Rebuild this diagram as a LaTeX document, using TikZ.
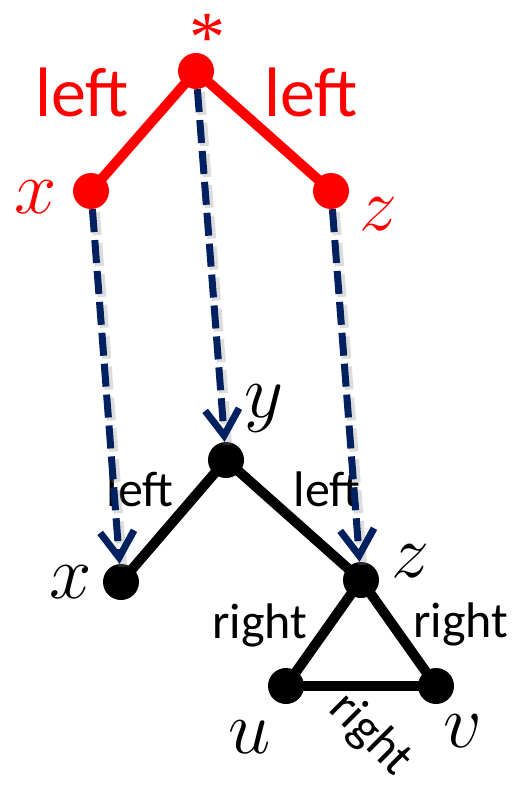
\documentclass[tikz,border=0pt]{standalone}
\usepackage{fontspec}
\setmainfont{Liberation Serif}
\newfontfamily\calibfont{Carlito}
\DeclareFontFamily{OML}{bigcmm}{\skewchar\font127 }
\DeclareFontShape{OML}{bigcmm}{m}{it}{<->cmmi12}{}
\newcommand{\mvar}[1]{{\usefont{OML}{bigcmm}{m}{it}#1}}
\usetikzlibrary{arrows.meta}
\definecolor{navy}{HTML}{002060}
\begin{document}
\begin{tikzpicture}[x=1pt,y=-1pt,
  rdot/.style={circle,fill=red,minimum size=36pt,inner sep=0pt},
  bdot/.style={circle,fill=black,minimum size=36pt,inner sep=0pt},
  redge/.style={draw=red,line width=10pt},
  bedge/.style={draw=black,line width=10pt},
  maparrow/.style={draw=navy,line width=7pt,dash pattern=on 23pt off 8pt,
    -{Straight Barb[length=26pt,width=34pt,line width=7pt]}},
  mapshadow/.style={draw=black!45,opacity=0.3,line width=9pt,dash pattern=on 23pt off 8pt,
    transform canvas={xshift=3pt,yshift=-3pt}},
  bigword/.style={inner sep=0pt,anchor=base,font=\calibfont\fontsize{70}{84}\selectfont},
  word/.style={inner sep=0pt,anchor=base,font=\calibfont\fontsize{50}{60}\selectfont},
  var/.style={inner sep=0pt,font=\fontsize{76}{90}\selectfont}]
\useasboundingbox (0,0) rectangle (516,786);
% red pattern
\coordinate (rs) at (196,71);
\coordinate (rx) at (91,191);
\coordinate (rz) at (331,191);
\draw[redge] (rs) -- (rx);
\draw[redge] (rs) -- (rz);
\node[rdot] (nrs) at (rs) {};
\node[rdot] (nrx) at (rx) {};
\node[rdot] (nrz) at (rz) {};
\node[inner sep=0pt,text=red,anchor=north,font=\rmfamily\fontsize{72}{84}\selectfont] (lstar) at (207,14) {*};
\node[var,text=red] (lrx) at (36,197) {\mvar{x}};
\node[var,text=red] (lrz) at (377,214) {\mvar{z}};
\node[bigword,text=red] (lr1) at (82,117) {left};
\node[bigword,text=red] (lr2) at (311,117) {left};
% black graph
\coordinate (by) at (226,460);
\coordinate (bx) at (121,582);
\coordinate (bz) at (361,580);
\coordinate (bu) at (286,686);
\coordinate (bv) at (436,686);
\draw[bedge] (by) -- (bx);
\draw[bedge] (by) -- (bz);
\draw[bedge] (bz) -- (bu);
\draw[bedge] (bz) -- (bv);
\draw[bedge] (bu) -- (bv);
\node[bdot] (nby) at (by) {};
\node[bdot] (nbx) at (bx) {};
\node[bdot] (nbz) at (bz) {};
\node[bdot] (nbu) at (bu) {};
\node[bdot] (nbv) at (bv) {};
\node[var] (lby) at (263,409) {\mvar{y}};
\node[var] (lbx) at (71,582) {\mvar{x}};
\node[var] (lbz) at (409,561) {\mvar{z}};
\node[var] (lbu) at (250,737) {\mvar{u}};
\node[var] (lbv) at (461,731) {\mvar{v}};
\node[word] (lb1) at (140,506) {left};
\node[word] (lb2) at (327,506) {left};
\node[word] (lb3) at (260,638) {right};
\node[word] (lb4) at (461,637) {right};
\node[word,anchor=center,rotate=-45] (lb5) at (370,735) {right};
% mapping arrows
\draw[mapshadow] (nrs) -- (nby);
\draw[mapshadow] (nrx) -- (nbx);
\draw[mapshadow] (nrz) -- (nbz);
\draw[maparrow] (nrs) -- (nby);
\draw[maparrow] (nrx) -- (nbx);
\draw[maparrow] (nrz) -- (nbz);
\end{tikzpicture}
\end{document}
